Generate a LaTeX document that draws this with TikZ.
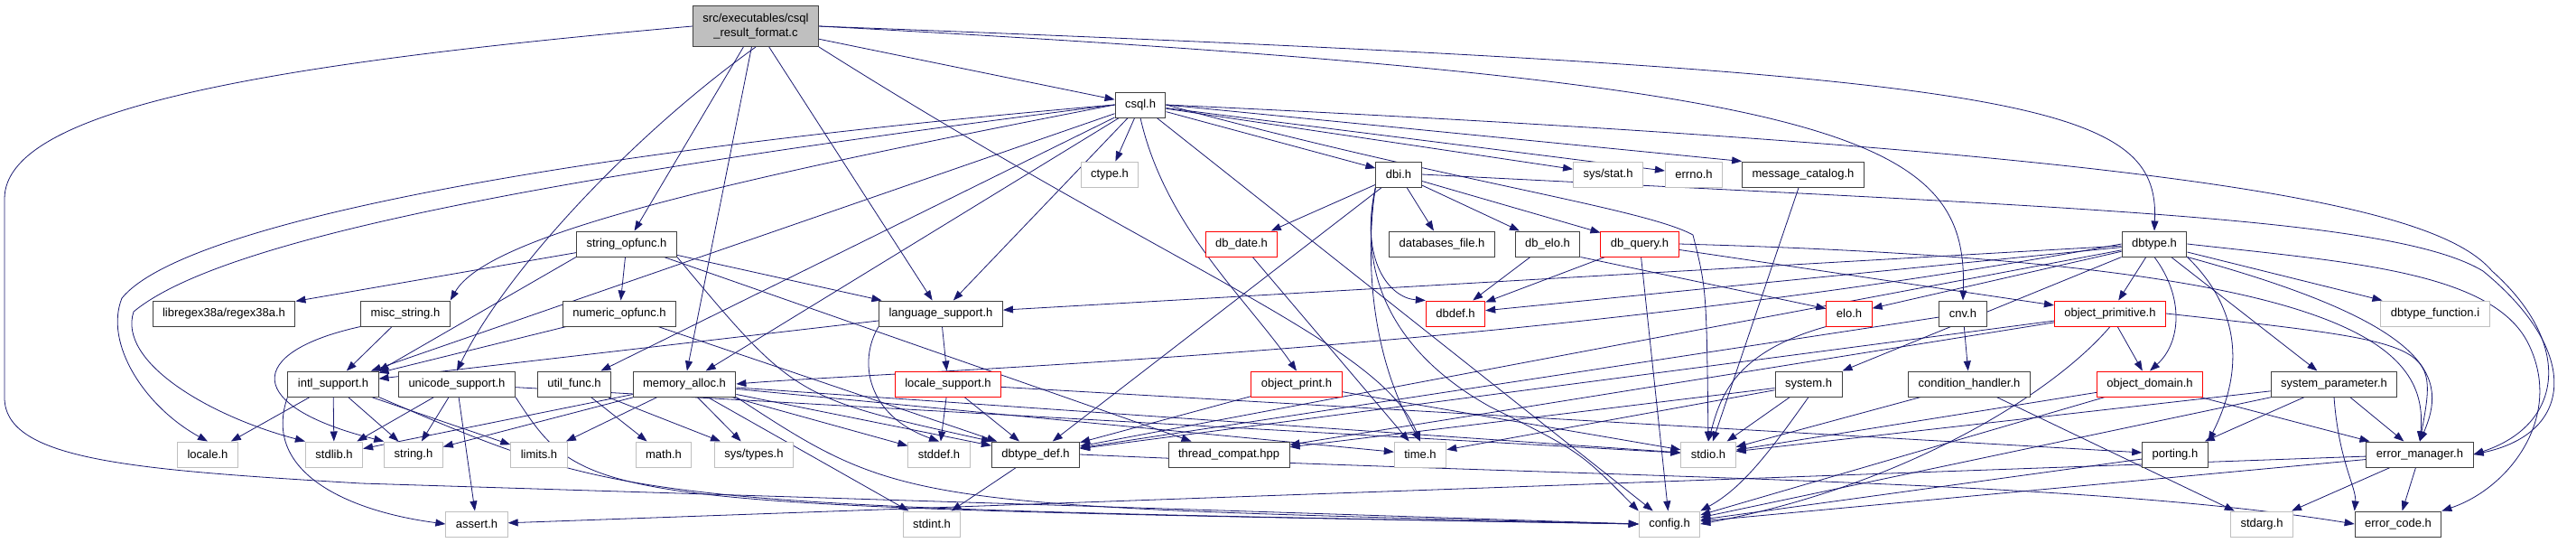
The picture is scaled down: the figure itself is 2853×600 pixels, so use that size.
\documentclass[tikz,border=0pt]{standalone}
\usepackage{fontspec}
\setmainfont{Liberation Sans}
\usetikzlibrary{arrows.meta,backgrounds}
\definecolor{edgeblue}{HTML}{191970}
\definecolor{sysgray}{HTML}{BFBFBF}
\definecolor{darkframe}{HTML}{404040}

\tikzset{
  hfile/.style={draw=darkframe, fill=white, line width=1pt, inner xsep=11pt, inner ysep=0pt,
    minimum height=28pt, font=\fontsize{13}{16}\selectfont},
  sysfile/.style={hfile, draw=sysgray},
  cutfile/.style={hfile, draw=red},
  mainfile/.style={hfile, fill=sysgray, align=center, minimum height=45pt},
  incl/.style={draw=edgeblue, line width=0.8pt, -{Triangle[length=11pt,width=8pt]}}
}

\begin{document}
\begin{tikzpicture}[x=1pt, y=-1pt]
\useasboundingbox (0,0) rectangle (2853,600);

% source file and csql.h
\node[mainfile] (root) at (837,29) {src/executables/csql\\\_result\_format.c};
\node[hfile] (csql) at (1263,116) {csql.h};

% row 2
\node[sysfile] (ctype) at (1229,193) {ctype.h};
\node[hfile] (dbi) at (1549,193) {dbi.h};
\node[sysfile] (sysstat) at (1781,193) {sys/stat.h};
\node[sysfile] (errno) at (1876,193) {errno.h};
\node[hfile] (msgcat) at (1997,193) {message\_catalog.h};

% row 3
\node[hfile] (strop) at (694,270) {string\_opfunc.h};
\node[cutfile] (dbdate) at (1375,270) {db\_date.h};
\node[hfile] (dbfile) at (1597,270) {databases\_file.h};
\node[hfile] (dbelo) at (1714,270) {db\_elo.h};
\node[cutfile] (dbquery) at (1816,270) {db\_query.h};
\node[hfile] (dbtype) at (2386,270) {dbtype.h};

% row 4
\node[hfile] (regex) at (248,347) {libregex38a/regex38a.h};
\node[hfile] (miscstr) at (449,347) {misc\_string.h};
\node[hfile] (numop) at (686,347) {numeric\_opfunc.h};
\node[hfile] (langsup) at (1042,347) {language\_support.h};
\node[cutfile] (dbdef) at (1612,347) {dbdef.h};
\node[cutfile] (elo) at (2048,347) {elo.h};
\node[hfile] (cnv) at (2174,347) {cnv.h};
\node[cutfile] (objprim) at (2337,347) {object\_primitive.h};
\node[sysfile] (dbtypefunc) at (2697,347) {dbtype\_function.i};

% row 5
\node[hfile] (intl) at (369,425) {intl\_support.h};
\node[hfile] (unicode) at (506,425) {unicode\_support.h};
\node[hfile] (utilfunc) at (636,425) {util\_func.h};
\node[hfile] (memalloc) at (758,425) {memory\_alloc.h};
\node[cutfile] (locsup) at (1050,425) {locale\_support.h};
\node[cutfile] (objprint) at (1436,425) {object\_print.h};
\node[hfile] (system) at (2003,425) {system.h};
\node[hfile] (condh) at (2181,425) {condition\_handler.h};
\node[cutfile] (objdomain) at (2381,425) {object\_domain.h};
\node[hfile] (sysparam) at (2585,425) {system\_parameter.h};

% row 6
\node[sysfile] (localeh) at (230,503) {locale.h};
\node[sysfile] (stdlib) at (370,503) {stdlib.h};
\node[sysfile] (stringh) at (458,503) {string.h};
\node[sysfile] (limits) at (597,503) {limits.h};
\node[sysfile] (mathh) at (735,503) {math.h};
\node[sysfile] (systypes) at (835,503) {sys/types.h};
\node[sysfile] (stddef) at (1040,503) {stddef.h};
\node[hfile] (dbtypedef) at (1147,503) {dbtype\_def.h};
\node[hfile] (threadc) at (1361,503) {thread\_compat.hpp};
\node[sysfile] (timeh) at (1573,503) {time.h};
\node[sysfile] (stdio) at (1892,503) {stdio.h};
\node[hfile] (porting) at (2409,503) {porting.h};
\node[hfile] (errmgr) at (2680,503) {error\_manager.h};

% row 7
\node[sysfile] (assert) at (528,580) {assert.h};
\node[sysfile] (stdint) at (1032,580) {stdint.h};
\node[sysfile] (config) at (1849,580) {config.h};
\node[sysfile] (stdarg) at (2505,580) {stdarg.h};
\node[hfile] (errcode) at (2656,580) {error\_code.h};

\begin{pgfonlayer}{background}
% straight includes
\foreach \dst in {csql,strop,memalloc,langsup} \draw[incl] (root) -- (\dst);
\foreach \dst in {ctype,dbi,sysstat,errno,intl,langsup,memalloc,utilfunc,config} \draw[incl] (csql) -- (\dst);
\draw[incl] (csql.east) -- (msgcat.north west);
\foreach \dst in {dbdate,dbfile,dbelo,dbquery,dbtypedef} \draw[incl] (dbi) -- (\dst);
\draw[incl] (dbdate) -- (timeh);
\draw[incl] (dbelo) -- (dbdef);
\draw[incl] (dbelo.south east) -- (elo);
\foreach \dst in {dbdef,objprim,config} \draw[incl] (dbquery) -- (\dst);
\draw[incl] (msgcat) -- (stdio);
\foreach \dst in {regex,numop,langsup,threadc} \draw[incl] (strop) -- (\dst);
\draw[incl] (strop.south west) -- (intl.north east);
\foreach \dst in {intl,dbtypedef} \draw[incl] (numop) -- (\dst);
\draw[incl] (miscstr) -- (intl);
\foreach \dst in {intl,locsup} \draw[incl] (langsup) -- (\dst);
\foreach \dst in {stddef,dbtypedef,porting} \draw[incl] (locsup) -- (\dst);
\foreach \dst in {localeh,stdlib,stringh,limits} \draw[incl] (intl) -- (\dst);
\foreach \dst in {stdlib,stringh,assert,stdio} \draw[incl] (unicode) -- (\dst);
\foreach \dst in {mathh,systypes} \draw[incl] (utilfunc) -- (\dst);
\foreach \dst in {stdlib,stringh,limits,systypes,stddef,dbtypedef,timeh,stdio,stdint} \draw[incl] (memalloc) -- (\dst);
\foreach \dst in {dbtypedef,stdio} \draw[incl] (objprint) -- (\dst);
\foreach \dst in {langsup,dbdef,elo,dbtypedef,objprim,sysparam,dbtypefunc} \draw[incl] (dbtype) -- (\dst);
\draw[incl] (dbtype.south west) -- (system.north east);
\foreach \dst in {objdomain,dbtypedef,threadc} \draw[incl] (objprim) -- (\dst);
\foreach \dst in {errmgr,stdio,config} \draw[incl] (objdomain) -- (\dst);
\foreach \dst in {porting,errmgr,stdio,config} \draw[incl] (sysparam) -- (\dst);
\foreach \dst in {stdarg,errcode,config,assert} \draw[incl] (errmgr) -- (\dst);
\draw[incl] (porting) -- (config);
\foreach \dst in {stdio,timeh,threadc} \draw[incl] (system) -- (\dst);
\foreach \dst in {condh,dbtypedef} \draw[incl] (cnv) -- (\dst);
\foreach \dst in {stdio,stdarg} \draw[incl] (condh) -- (\dst);
\draw[incl] (dbtypedef) -- (stdint);

% curved includes
\draw[incl] (root.south) .. controls (700,150) and (560,300) .. (unicode.north);
\draw[incl] (root.south east) .. controls (1300,300) and (1530,380) .. (timeh.north);
\draw[incl] (root.east) .. controls (2250,80) and (2392,110) .. (dbtype.north);
\draw[incl] (root.east) .. controls (2050,90) and (2180,150) .. (cnv.north);
\draw[incl] (root.west) .. controls (300,70) and (5,120) .. (5,220) -- (5,440)
  .. controls (5,510) and (150,520) .. (400,535) .. controls (1200,560) .. (config.west);
\draw[incl] (csql.west) .. controls (800,200) and (540,260) .. (miscstr.north east);
\draw[incl] (csql.south) .. controls (1290,250) and (1380,330) .. (objprint.north);
\draw[incl] (csql.west) .. controls (600,170) and (200,250) .. (135,330)
  .. controls (115,380) and (160,450) .. (localeh.north);
\draw[incl] (csql.west) .. controls (650,190) and (250,260) .. (148,345)
  .. controls (130,400) and (230,460) .. (stdlib.north west);
\draw[incl] (csql.east) .. controls (1600,200) and (1820,230) .. (1875,260)
  .. controls (1890,320) .. (stdio.north);
\draw[incl] (csql.east) .. controls (2450,170) and (2700,230) .. (2760,300)
  .. controls (2850,380) and (2840,470) .. (errmgr.east);
\draw[incl] (dbi.south west) .. controls (1505,290) and (1540,330) .. (dbdef.north west);
\draw[incl] (dbi.south west) .. controls (1515,260) and (1510,380) .. (timeh.north);
\draw[incl] (dbi.south west) .. controls (1500,320) and (1560,400) .. (1650,450)
  .. controls (1750,500) .. (config.north west);
\draw[incl] (dbi.east) .. controls (2300,230) and (2650,240) .. (2750,300)
  .. controls (2860,390) and (2850,480) .. (errmgr.east);
\draw[incl] (dbquery.east) .. controls (2600,290) and (2690,380) .. (errmgr.north);
\draw[incl] (strop.south east) .. controls (880,440) .. (dbtypedef.north west);
\draw[incl] (langsup.south west) .. controls (950,400) and (960,460) .. (stddef.north);
\draw[incl] (miscstr.south west) .. controls (270,390) and (270,450) .. (stringh.north west);
\draw[incl] (intl.south west) .. controls (290,520) and (380,565) .. (assert.west);
\draw[incl] (intl.south east) .. controls (700,560) .. (config.west);
\draw[incl] (unicode.south east) .. controls (650,560) .. (config.west);
\draw[incl] (memalloc.south east) .. controls (1000,560) .. (config.west);
\draw[incl] (dbtype.south) .. controls (2420,330) and (2415,380) .. (objdomain.north);
\draw[incl] (dbtype.south east) .. controls (2500,360) and (2470,440) .. (porting.north east);
\draw[incl] (dbtype.south east) .. controls (2700,360) and (2710,420) .. (errmgr.north);
\draw[incl] (dbtype.east) .. controls (2600,290) and (2760,300) .. (2800,380)
  .. controls (2840,460) and (2780,540) .. (errcode.north east);
\draw[incl] (dbtype.west) .. controls (1700,390) and (1000,410) .. (memalloc.east);
\draw[incl] (objprim.south) .. controls (2270,440) and (2100,540) .. (config.east);
\draw[incl] (objprim.east) .. controls (2700,380) .. (errmgr.north);
\draw[incl] (sysparam.south) .. controls (2590,510) and (2610,540) .. (errcode.north west);
\draw[incl] (system.south) .. controls (1960,500) and (1930,540) .. (config.north east);
\draw[incl] (elo.south west) .. controls (1920,390) and (1905,440) .. (stdio.north);
\draw[incl] (dbtypedef.east) .. controls (1800,530) and (2300,530) .. (errcode.west);
\end{pgfonlayer}

\end{tikzpicture}
\end{document}
